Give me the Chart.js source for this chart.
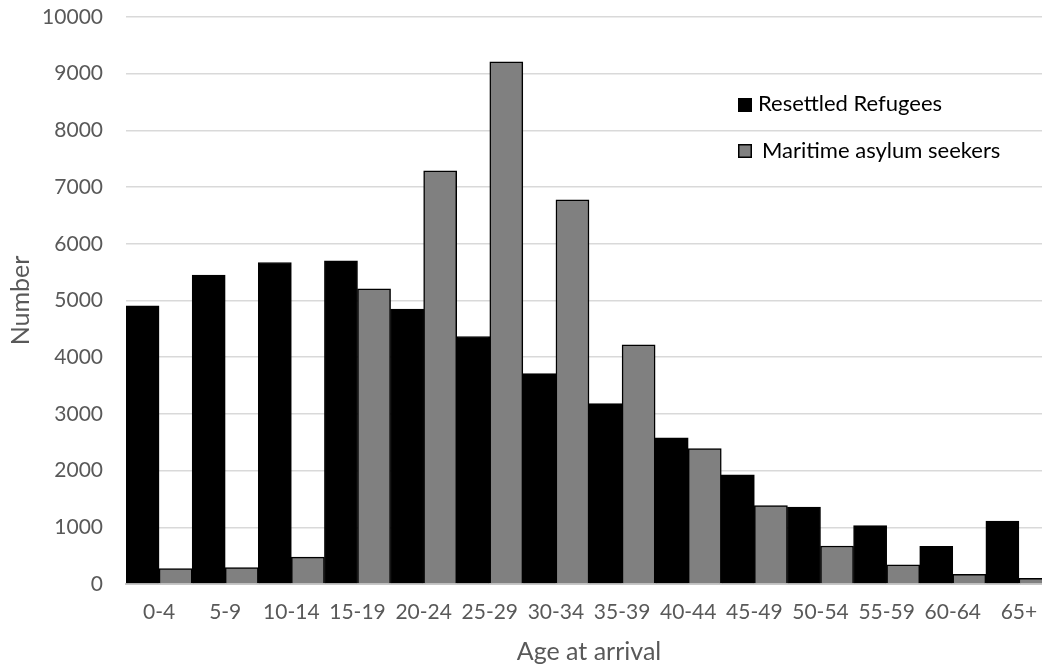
<!DOCTYPE html>
<html>
<head>
<meta charset="utf-8">
<title>Age at arrival</title>
<script src="https://cdn.jsdelivr.net/npm/chart.js@4"></script>
<style>
  html, body { margin: 0; padding: 0; background: #ffffff; overflow: hidden; }
  #wrap { width: 1052px; height: 671px; }
  canvas { display: block; }
</style>
</head>
<body>
<div id="wrap"><canvas id="chart" width="1052" height="671"></canvas></div>
<script>
// Age groups on the horizontal axis
const ageGroups = ['0-4', '5-9', '10-14', '15-19', '20-24', '25-29', '30-34',
                   '35-39', '40-44', '45-49', '50-54', '55-59', '60-64', '65+'];

// Number of people per age group at arrival
const resettledRefugees = [4905, 5450, 5670, 5700, 4850, 4365, 3710,
                           3180, 2580, 1925, 1355, 1030, 665, 1110];
const maritimeAsylumSeekers = [270, 290, 475, 5205, 7285, 9210, 6775,
                               4220, 2390, 1385, 670, 340, 170, 100];

// Vertical axis range and step
const yMin = 0;
const yMax = 10000;
const yStep = 1000;

const FONT = 'Lato, "Open Sans", "Liberation Sans", sans-serif';
const TEXT_GREY = '#595959';

// Legend drawn as a list inside the plot area
const insideLegend = {
  id: 'insideLegend',
  afterDatasetsDraw(chart) {
    const ctx = chart.ctx;
    const rows = [
      { box: [738, 98], text: [758, 104] },
      { box: [738, 144], text: [762, 151] }
    ];
    ctx.save();
    chart.data.datasets.forEach((ds, i) => {
      const r = rows[i];
      ctx.fillStyle = ds.backgroundColor;
      ctx.fillRect(r.box[0], r.box[1], 14, 14);
      ctx.lineWidth = 1.5;
      ctx.strokeStyle = '#000000';
      ctx.strokeRect(r.box[0] + 0.75, r.box[1] + 0.75, 12.5, 12.5);
      ctx.fillStyle = '#000000';
      ctx.font = '22px ' + FONT;
      ctx.textAlign = 'left';
      ctx.textBaseline = 'middle';
      ctx.fillText(ds.label, r.text[0], r.text[1]);
    });
    ctx.restore();
  }
};

new Chart(document.getElementById('chart'), {
  type: 'bar',
  data: {
    labels: ageGroups,
    datasets: [
      {
        label: 'Resettled Refugees',
        data: resettledRefugees,
        backgroundColor: '#000000',
        borderColor: '#000000',
        borderWidth: 1,
        categoryPercentage: 1.0,
        barPercentage: 1.0
      },
      {
        label: 'Maritime asylum seekers',
        data: maritimeAsylumSeekers,
        backgroundColor: '#808080',
        borderColor: '#000000',
        borderWidth: 1.5,
        categoryPercentage: 1.0,
        barPercentage: 1.0
      }
    ]
  },
  options: {
    responsive: false,
    animation: false,
    devicePixelRatio: 1,
    layout: { padding: { top: 17, left: 0, right: 0, bottom: 0 } },
    plugins: {
      legend: { display: false },
      tooltip: { enabled: false }
    },
    scales: {
      x: {
        grid: { display: false, drawTicks: false },
        border: { display: true, color: '#c8c8c8', width: 2 },
        ticks: {
          color: TEXT_GREY,
          font: { family: FONT, size: 21 },
          padding: 16,
          maxRotation: 0,
          autoSkip: false
        },
        title: {
          display: true,
          text: 'Age at arrival',
          color: TEXT_GREY,
          font: { family: FONT, size: 25 },
          padding: { top: 0, bottom: 4 }
        },
        afterFit(scale) {
          scale.height = 87;
          scale.paddingLeft = 0;
          scale.paddingRight = 0;
        }
      },
      y: {
        min: yMin,
        max: yMax,
        grid: { color: '#d9d9d9', lineWidth: 1.5, drawTicks: false },
        border: { display: false },
        ticks: {
          stepSize: yStep,
          color: TEXT_GREY,
          font: { family: FONT, size: 21 },
          padding: 23,
          callback: (value) => String(value)
        },
        title: {
          display: true,
          text: 'Number',
          color: TEXT_GREY,
          font: { family: FONT, size: 25 },
          padding: { top: 6, bottom: 0 }
        },
        afterFit(scale) {
          scale.width = 126;
          scale.paddingTop = 0;
          scale.paddingBottom = 0;
        }
      }
    }
  },
  plugins: [insideLegend]
});
</script>
</body>
</html>
